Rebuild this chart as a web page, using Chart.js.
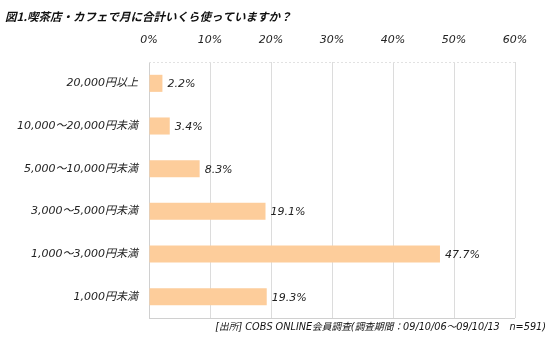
<!DOCTYPE html>
<html>
<head>
<meta charset="utf-8">
<script src="https://cdn.jsdelivr.net/npm/chart.js@4"></script>
<style>
  html, body { margin: 0; padding: 0; background: #fff; }
  #wrap { width: 550px; height: 342px; position: relative; }
</style>
</head>
<body>
<div id="wrap"><canvas id="chart"></canvas></div>
<script>
const titleText = "図1.喫茶店・カフェで月に合計いくら使っていますか？";
const sourceText = "[出所] COBS ONLINE会員調査(調査期間：09/10/06～09/10/13　n=591)";

const categories = [
  "20,000円以上",
  "10,000～20,000円未満",
  "5,000～10,000円未満",
  "3,000～5,000円未満",
  "1,000～3,000円未満",
  "1,000円未満"
];
const shares = [2.2, 3.4, 8.3, 19.1, 47.7, 19.3];
const tickValues = [0, 10, 20, 30, 40, 50, 60];

const fontFamily = "'DejaVu Sans', 'Noto Sans CJK JP', sans-serif";
const titleFamily = "'Noto Sans CJK JP', sans-serif";

const textPlugin = {
  id: "textPlugin",
  afterDatasetsDraw(chart) {
    const ctx = chart.ctx;
    const area = chart.chartArea;
    ctx.save();

    // bottom line and dotted top line of plot
    ctx.strokeStyle = "#d0d0d0";
    ctx.lineWidth = 1;
    ctx.beginPath();
    ctx.moveTo(area.left, area.bottom + 0.5);
    ctx.lineTo(area.right, area.bottom + 0.5);
    ctx.stroke();
    ctx.strokeStyle = "#e2e2e2";
    ctx.setLineDash([2, 2]);
    ctx.beginPath();
    ctx.moveTo(area.left, area.top + 0.5);
    ctx.lineTo(area.right, area.top + 0.5);
    ctx.stroke();
    ctx.setLineDash([]);

    // value labels
    ctx.fillStyle = "#222";
    ctx.font = "italic 11px " + fontFamily;
    ctx.textBaseline = "middle";
    ctx.textAlign = "left";
    chart.getDatasetMeta(0).data.forEach((bar, i) => {
      ctx.fillText(shares[i].toFixed(1) + "%", bar.x + 5, bar.y + 1);
    });

    // title
    ctx.font = "bold italic 11.5px " + titleFamily;
    ctx.fillStyle = "#111";
    ctx.fillText(titleText, 5, 17);

    // source note
    ctx.font = "italic 9.7px " + fontFamily;
    ctx.textAlign = "right";
    ctx.fillText(sourceText, 546, 327);
    ctx.restore();
  }
};

new Chart(document.getElementById("chart"), {
  type: "bar",
  data: {
    labels: categories,
    datasets: [{
      data: shares,
      backgroundColor: "#fdcd9b",
      borderWidth: 0,
      barPercentage: 0.4,
      categoryPercentage: 1
    }]
  },
  options: {
    indexAxis: "y",
    responsive: true,
    maintainAspectRatio: false,
    animation: false,
    layout: { padding: { top: 0, left: 0, right: 35, bottom: 24 } },
    scales: {
      x: {
        position: "top",
        min: 0,
        max: 60,
        afterFit: scale => { scale.height = 62; },
        afterBuildTicks: scale => {
          scale.ticks = tickValues.map(v => ({ value: v }));
        },
        grid: { color: "#dcdcdc", drawTicks: false },
        border: { display: false },
        ticks: {
          padding: 15,
          color: "#222",
          font: { family: fontFamily, size: 11, style: "italic" },
          callback: value => value + "%"
        }
      },
      y: {
        afterFit: scale => { scale.width = 149; },
        grid: { display: false, drawTicks: false },
        border: { color: "#d0d0d0" },
        ticks: {
          padding: 11,
          color: "#222",
          font: { family: fontFamily, size: 11, style: "italic" }
        }
      }
    },
    plugins: {
      legend: { display: false },
      tooltip: { enabled: false }
    }
  },
  plugins: [textPlugin]
});
</script>
</body>
</html>
